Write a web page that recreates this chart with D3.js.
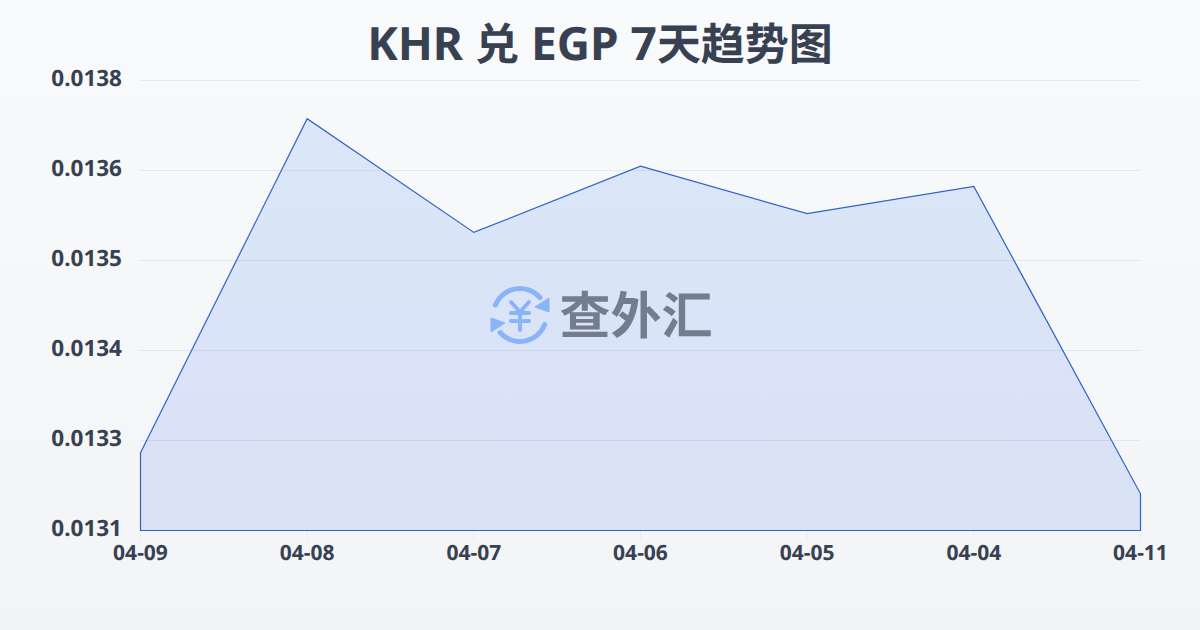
<!DOCTYPE html>
<html><head><meta charset="utf-8">
<script src="https://cdn.jsdelivr.net/npm/d3@7/dist/d3.min.js"></script>
<style>html,body{margin:0;padding:0;width:1200px;height:630px;overflow:hidden}svg{text-rendering:geometricPrecision}</style>
</head><body><svg id="c" width="1200" height="630" xmlns="http://www.w3.org/2000/svg"></svg>
<script>
const titleParts = [["KHR ",46],["兑",44],[" EGP 7",46],["天趋势图",44]];
const categories = ["04-09","04-08","04-07","04-06","04-05","04-04","04-11"];
const rates = [0.013248,0.013712,0.013554,0.013646,0.013580,0.013618,0.013191];
const yTicks = [0.01314,0.013265,0.01339,0.013515,0.01364,0.013765];
const watermark = "查外汇";

const svg = d3.select("#c");
const font = "'Noto Sans','Noto Sans CJK SC',sans-serif";
const defs = svg.append("defs");
const bg = defs.append("linearGradient").attr("id","bg").attr("x1",0).attr("y1",0).attr("x2",0).attr("y2",1);
bg.append("stop").attr("offset",0).attr("stop-color","#f8fafc");
bg.append("stop").attr("offset",1).attr("stop-color","#f3f4f6");
const ag = defs.append("linearGradient").attr("id","ag").attr("x1",0).attr("y1",0).attr("x2",0).attr("y2",1);
ag.append("stop").attr("offset",0).attr("stop-color","#dbe6f9");
ag.append("stop").attr("offset",1).attr("stop-color","#d9e1f5");
svg.append("rect").attr("width",1200).attr("height",630).attr("fill","url(#bg)");

const x = d3.scalePoint().domain(categories).range([140.5,1140.5]);
const y = d3.scaleLinear().domain([yTicks[0],yTicks[yTicks.length-1]]).range([530.5,80.5]);

const title = svg.append("text").attr("x",600).attr("y",60).attr("text-anchor","middle")
  .attr("font-family",font).attr("font-weight",700).attr("fill","#374151").style("white-space","pre");
titleParts.forEach(([t,s])=>title.append("tspan").attr("font-size",s).text(t));

const area = d3.area().x((d,i)=>x(categories[i])).y0(y(yTicks[0])).y1(d=>y(d));
svg.append("path").datum(rates).attr("d",area).attr("fill","url(#ag)");

const gy = svg.append("g").attr("transform","translate(140,0)")
  .call(d3.axisLeft(y).offset(0).tickValues(yTicks).tickSize(-1000).tickPadding(18).tickFormat(d3.format(".4f")));
gy.select(".domain").remove();
gy.selectAll("line").attr("stroke","#374151").attr("stroke-opacity",0.09).attr("stroke-width",1);
gy.selectAll("text").attr("font-family",font).attr("font-weight",700).attr("font-size",22.5).attr("fill","#374151")
  .attr("dy",null).attr("y",5.5);

const gx = svg.append("g").attr("transform",`translate(0,${y(yTicks[0])})`)
  .call(d3.axisBottom(x).offset(0).tickSize(9).tickPadding(0));
gx.select(".domain").remove();
gx.selectAll("line").attr("stroke","#e5e7eb").attr("stroke-opacity",0.7);
gx.selectAll("text").attr("font-family",font).attr("font-weight",700).attr("font-size",21).attr("fill","#374151")
  .attr("dy",null).attr("y",29.5);

svg.append("path")
  .attr("d",d3.line().x((d,i)=>x(categories[i])).y(d=>y(d))(rates)
     + `L${x(categories[6])},${y(yTicks[0])}L${x(categories[0])},${y(yTicks[0])}Z`)
  .attr("fill","none").attr("stroke","#2f62c4").attr("stroke-width",1.2);

// watermark
const wm = svg.append("g").attr("transform","translate(520,315)");
const arc = d3.arc().cornerRadius(2.2);
const logoBlue = "#8ab4f8";
wm.append("path").attr("d",arc({innerRadius:24,outerRadius:29,startAngle:-1.28,endAngle:0.95})).attr("fill",logoBlue);
wm.append("path").attr("d",arc({innerRadius:24,outerRadius:29,startAngle:1.85,endAngle:4.08})).attr("fill",logoBlue);
wm.append("path").attr("d","M29,-17L29,-3L15,-8Z").attr("fill",logoBlue).attr("stroke",logoBlue).attr("stroke-linejoin","round");
wm.append("path").attr("d","M-29,17L-29,3L-15,8Z").attr("fill",logoBlue).attr("stroke",logoBlue).attr("stroke-linejoin","round");
wm.append("path").attr("d","M-9,-13L0,-3L9,-13M-9,-2H9M-9,6H9M0,-3V15")
  .attr("fill","none").attr("stroke",logoBlue).attr("stroke-width",4).attr("stroke-linecap","round").attr("stroke-linejoin","round");
svg.append("text").attr("x",636).attr("y",334).attr("text-anchor","middle")
  .attr("font-family","'Noto Sans CJK SC',sans-serif").attr("font-weight",700).attr("font-size",51).attr("fill","#737d8f").text(watermark);
</script></body></html>
